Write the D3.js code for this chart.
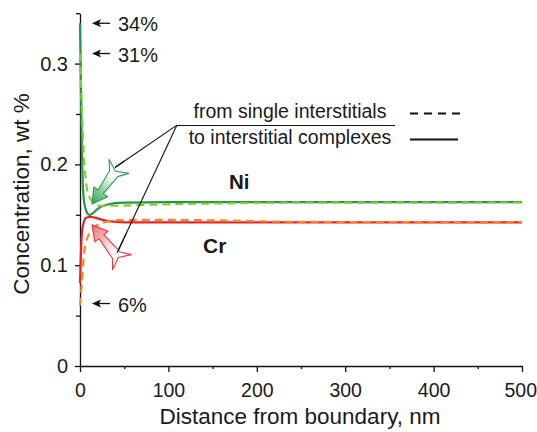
<!DOCTYPE html>
<html><head><meta charset="utf-8">
<script src="https://cdn.jsdelivr.net/npm/d3@7"></script>
<style>body{margin:0;background:#fff}svg{display:block}text{font-family:"Liberation Sans",Arial,sans-serif;fill:#1a1a1a}</style>
</head><body>
<script>
// ---- data (distance nm, concentration wt %) ----
const niComplexX = [0, 1, 2, 3, 4, 6, 8, 11, 15, 20, 30, 50, 100, 500];
const niComplexY = [0.34, 0.28, 0.22, 0.185, 0.168, 0.157, 0.152, 0.150, 0.152, 0.156, 0.160, 0.162, 0.1625, 0.1625];
const niSingleX = [0, 2, 3.5, 6, 8, 11, 15, 22, 40, 80, 150, 250, 500];
const niSingleY = [0.31, 0.26, 0.224, 0.19, 0.175, 0.167, 0.162, 0.159, 0.159, 0.160, 0.1612, 0.162, 0.1622];
const crComplexX = [0, 1, 2, 4, 7, 12, 18, 25, 40, 60, 500];
const crComplexY = [0.082, 0.11, 0.13, 0.142, 0.147, 0.148, 0.147, 0.145, 0.143, 0.1425, 0.1425];
const crSingleX = [0, 2, 5, 11, 20, 30, 50, 100, 150, 250, 500];
const crSingleY = [0.06, 0.082, 0.115, 0.132, 0.140, 0.143, 0.145, 0.145, 0.1445, 0.143, 0.1425];
const xTicks = [0, 100, 200, 300, 400, 500];
const yTicks = [0, 0.1, 0.2, 0.3];
const yTickLabels = ["0", "0.1", "0.2", "0.3"];
const legendLabels = ["from single interstitials", "to interstitial complexes"];
const pctLabels = ["34%", "31%", "6%"];
const pctValues = [0.34, 0.31, 0.06];

const W = 537, H = 432;
const svg = d3.select("body").append("svg").attr("width", W).attr("height", H);
const defs = svg.append("defs");
const x = d3.scaleLinear().domain([0, 500]).range([80, 522]);
const y = d3.scaleLinear().domain([0, 0.35]).range([366, 13.2]);

// axes
const xAxis = d3.axisBottom(x).tickValues(xTicks).tickSize(6).tickPadding(6).tickSizeOuter(0);
const gx = svg.append("g").attr("transform", "translate(0,366)").call(xAxis);
gx.selectAll("text").style("font-size", "19.5px").attr("fill", "#1a1a1a");
gx.selectAll(".tick text").attr("dy", "0.95em");
gx.selectAll(".tick text").filter(d => d === 500).attr("text-anchor", "end").attr("dx", 14.5);
svg.append("g").attr("transform", "translate(0,366)")
  .call(d3.axisBottom(x).tickValues([50,150,250,350,450]).tickSize(3).tickFormat("")).select(".domain").remove();

const yAxis = d3.axisLeft(y).tickValues(yTicks).tickFormat((d,i)=>yTickLabels[i]).tickSize(5).tickPadding(7).tickSizeOuter(0);
const gy = svg.append("g").attr("transform", "translate(80,0)").call(yAxis);
gy.selectAll("text").style("font-size", "20px").attr("fill", "#1a1a1a");
svg.append("g").attr("transform", "translate(80,0)")
  .call(d3.axisLeft(y).tickValues([0.05,0.15,0.25,0.35]).tickSize(4).tickFormat("")).select(".domain").remove();
svg.selectAll(".domain, .tick line").attr("stroke", "#111").attr("stroke-width", 1.3);

// titles
svg.append("text").attr("x", 300).attr("y", 424).attr("text-anchor", "middle")
  .style("font-size", "22.5px").text("Distance from boundary, nm");
svg.append("text").attr("transform", "translate(29,194) rotate(-90)").attr("text-anchor", "middle")
  .style("font-size", "22.5px").text("Concentration, wt %");

// curves
const line = d3.line().x(d=>x(d[0])).y(d=>y(d[1])).curve(d3.curveMonotoneX);
function series(xs, ys){ return xs.map((v,i)=>[v, ys[i]]); }
const curves = [
  {d: series(crComplexX, crComplexY), c: "#e8242a", dash: null},
  {d: series(crSingleX, crSingleY), c: "#f0892e", dash: "8,5"},
  {d: series(niComplexX, niComplexY), c: "#1f9b45", dash: null},
  {d: series(niSingleX, niSingleY), c: "#8cc63f", dash: "8,5"}
];
curves.forEach(s=>{
  svg.append("path").attr("d", line(s.d)).attr("fill","none").attr("stroke", s.c)
    .attr("stroke-width", 2.2).attr("stroke-dasharray", s.dash);
});

// labels Ni / Cr
svg.append("text").attr("x", 229).attr("y", 189).style("font-size","20.5px").style("font-weight","bold").text("Ni");
svg.append("text").attr("x", 203).attr("y", 253).style("font-size","21px").style("font-weight","bold").text("Cr");

// legend
svg.append("text").attr("x", 290).attr("y", 118).attr("text-anchor","middle").style("font-size","19.5px").text(legendLabels[0]);
svg.append("text").attr("x", 290).attr("y", 144).attr("text-anchor","middle").style("font-size","19.5px").text(legendLabels[1]);
svg.append("line").attr("x1",177).attr("x2",395).attr("y1",125.5).attr("y2",125.5).attr("stroke","#111").attr("stroke-width",1.2);
svg.append("line").attr("x1",410).attr("x2",460).attr("y1",113.5).attr("y2",113.5).attr("stroke","#111").attr("stroke-width",2).attr("stroke-dasharray","8,6");
svg.append("line").attr("x1",410).attr("x2",458).attr("y1",139.5).attr("y2",139.5).attr("stroke","#111").attr("stroke-width",2);

// percentage callouts
pctValues.forEach((v,i)=>{
  const yy = y(v) + (i===2 ? -2 : 0);
  svg.append("line").attr("x1",97).attr("x2",110).attr("y1",yy).attr("y2",yy)
    .attr("stroke","#111").attr("stroke-width",1.3);
  svg.append("path").attr("d", `M92,${yy} L101,${yy-4} L99,${yy} L101,${yy+4} Z`).attr("fill","#111");
  svg.append("text").attr("x",118).attr("y",yy+8).style("font-size","20px").text(pctLabels[i]);
});

// leader lines (annotation anchors in data units)
const hub = [109.7, 0.239];
const ends = [[39.6, 0.197], [41.9, 0.112]];
ends.forEach(e=>{
  svg.append("line").attr("x1",x(hub[0])).attr("y1",y(hub[1])).attr("x2",x(e[0])).attr("y2",y(e[1]))
    .attr("stroke","#111").attr("stroke-width",1.1);
});

// block arrows
function blockArrow(tail, tip, fillCol, strokeCol, id){
  const tx = x(tail[0]), ty = y(tail[1]), px = x(tip[0]), py = y(tip[1]);
  const L = Math.hypot(tx-px, ty-py);
  const ang = Math.atan2(ty-py, tx-px) * 180/Math.PI;
  const g = defs.append("linearGradient").attr("id", id).attr("gradientUnits","userSpaceOnUse")
    .attr("x1", L).attr("y1", 0).attr("x2", 0).attr("y2", 0);
  g.append("stop").attr("offset","0").attr("stop-color","#fff");
  g.append("stop").attr("offset","0.25").attr("stop-color","#fff");
  g.append("stop").attr("offset","1").attr("stop-color",fillCol);
  const pts = [[0,0],[15,8.5],[15,3.2],[L-9,5],[L,12],[L-6,0],[L,-12],[L-9,-5],[15,-3.2],[15,-8.5]];
  const p = d3.path(); pts.forEach((q,i)=> i? p.lineTo(q[0],q[1]) : p.moveTo(q[0],q[1])); p.closePath();
  svg.append("path").attr("d", p.toString())
    .attr("transform", `translate(${px},${py}) rotate(${ang})`)
    .attr("fill", `url(#${id})`).attr("stroke", strokeCol).attr("stroke-width", 1.1).attr("stroke-linejoin","round");
}
blockArrow([44, 0.198], [13.6, 0.1607], "#2e9f55", "#2a9d4a", "gG");
blockArrow([47.5, 0.103], [13.6, 0.140], "#ee7070", "#e83a3a", "gR");
// leader line ends drawn over arrows
ends.forEach(e=>{
  const fx = x(hub[0]) + (x(e[0])-x(hub[0]))*0.85, fy = y(hub[1]) + (y(e[1])-y(hub[1]))*0.85;
  svg.append("line").attr("x1",fx).attr("y1",fy).attr("x2",x(e[0])).attr("y2",y(e[1]))
    .attr("stroke","#111").attr("stroke-width",1.1);
});
</script>
</body></html>
